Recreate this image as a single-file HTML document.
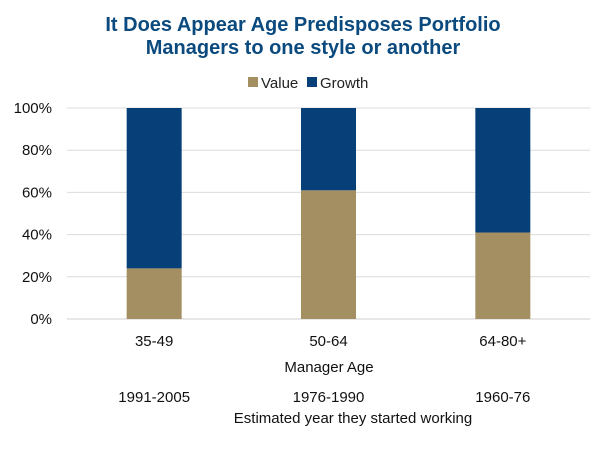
<!DOCTYPE html>
<html><head><meta charset="utf-8"><style>
body{margin:0;background:#fff;font-family:"Liberation Sans",Arial,sans-serif}
svg text{font-family:"Liberation Sans",Arial,sans-serif}
</style></head><body>
<svg width="606" height="453" xmlns="http://www.w3.org/2000/svg">
<text x="303" y="31" text-anchor="middle" font-size="20" font-weight="bold" fill="#0b4a7e">It Does Appear Age Predisposes Portfolio</text>
<text x="303" y="54" text-anchor="middle" font-size="20" font-weight="bold" fill="#0b4a7e">Managers to one style or another</text>
<g>
<rect x="248" y="77" width="10" height="10" fill="#a48f62"/>
<text x="261" y="88" font-size="15" fill="#222">Value</text>
<rect x="307" y="77" width="10" height="10" fill="#073f78"/>
<text x="320" y="88" font-size="15" fill="#222">Growth</text>
</g>
<g id="grid"></g><g id="bars"></g><g id="labels"></g>
<text x="329" y="372" text-anchor="middle" font-size="15" fill="#111">Manager Age</text>
<text x="353" y="423" text-anchor="middle" font-size="15" fill="#111">Estimated year they started working</text>
</svg>
<script>
const categories=["35-49","50-64","64-80+"];
const years=["1991-2005","1976-1990","1960-76"];
const valueSeries=[24,61,41];
const growthSeries=[76,39,59];
const ticks=[0,20,40,60,80,100];
const NS="http://www.w3.org/2000/svg";
const x0=67,x1=590,y0=319,y100=108;
const yS=v=>y0-(v/100)*(y0-y100);
const band=(x1-x0)/categories.length;
const xC=i=>x0+band*(i+0.5);
function mk(t,a,p){const e=document.createElementNS(NS,t);for(const k in a)e.setAttribute(k,a[k]);p.appendChild(e);return e;}
const g=document.getElementById('grid'),b=document.getElementById('bars'),l=document.getElementById('labels');
ticks.forEach(t=>{
 const ln=mk('line',{x1:x0,x2:x1,y1:yS(t),y2:yS(t),stroke:t===0?'#cfcfcf':'#dcdcdc','stroke-width':1},g);
 
 
 const tx=mk('text',{x:52,y:yS(t)+5,'text-anchor':'end','font-size':15,fill:'#111'},l);
 tx.textContent=t+'%';
 
 
});
const bw=55;
categories.forEach((c,i)=>{
 const v=valueSeries[i],gr=growthSeries[i];
 const r1=mk('rect',{x:xC(i)-bw/2,y:yS(v),width:bw,height:y0-yS(v),fill:'#a48f62'},b);
 
 
 const r2=mk('rect',{x:xC(i)-bw/2,y:yS(v+gr),width:bw,height:yS(v)-yS(v+gr),fill:'#073f78'},b);
 
 
 const t=mk('text',{x:xC(i),y:346,'text-anchor':'middle','font-size':15,fill:'#111'},l);
 t.textContent=c;
 
 
 const y=mk('text',{x:xC(i),y:402,'text-anchor':'middle','font-size':15,fill:'#111'},l);
 y.textContent=years[i];
 
 
});
</script>
</body></html>
